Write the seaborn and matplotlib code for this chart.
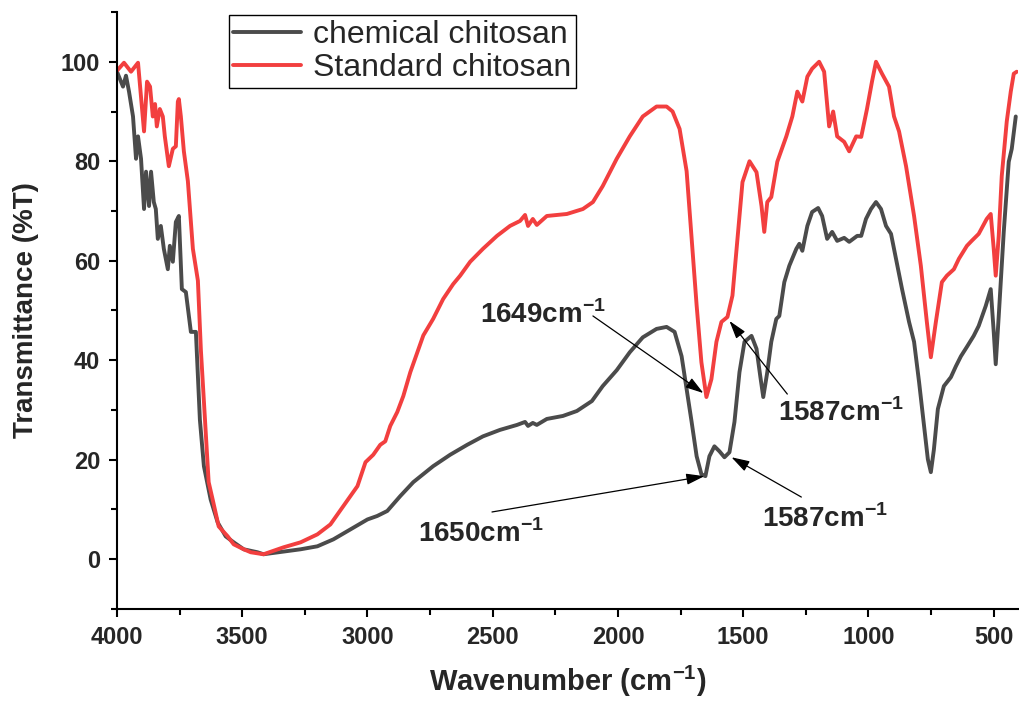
import numpy as np
import pandas as pd
import matplotlib
matplotlib.use("Agg")
import matplotlib.pyplot as plt
import seaborn as sns

# FTIR spectra (wavenumber in cm-1, %T)
wn_chem = [4000, 3976, 3964, 3952, 3936, 3924, 3916, 3904, 3892, 3884, 3872, 3864, 3853, 3845,
           3837, 3825, 3813, 3797, 3789, 3777, 3765, 3753, 3741, 3725, 3705, 3685, 3669, 3653,
           3626, 3598, 3566, 3534, 3494, 3439, 3415, 3267, 3200, 3136, 3068, 3000, 2961, 2921,
           2869, 2817, 2738, 2670, 2602, 2539, 2471, 2403, 2371, 2359, 2340, 2324, 2284, 2220,
           2164, 2104, 2061, 2005, 1953, 1901, 1846, 1806, 1774, 1746, 1726, 1706, 1686, 1667,
           1651, 1635, 1615, 1595, 1575, 1555, 1535, 1515, 1495, 1467, 1447, 1432, 1420, 1404,
           1388, 1368, 1356, 1336, 1316, 1288, 1276, 1264, 1244, 1225, 1201, 1185, 1165, 1145,
           1125, 1097, 1077, 1045, 1029, 1010, 990, 970, 950, 930, 910, 890, 866, 838, 818, 798,
           778, 763, 751, 739, 723, 699, 671, 651, 631, 607, 580, 560, 532, 512, 500, 492, 480,
           460, 440, 428, 412]
t_chem = [98, 95, 97.2, 94, 89, 80.5, 85, 80.5, 70.4, 77.9, 71, 77.9, 71.8, 70.4,
          64.4, 67, 62.4, 58.3, 63, 59.8, 67.8, 69, 54.3, 53.7, 45.7, 45.7, 28, 18.7,
          12, 7.4, 4.6, 3.4, 2, 1.4, 1.0, 2, 2.6, 4, 6, 8, 8.7, 9.7,
          12.7, 15.5, 18.7, 21, 23, 24.7, 26, 27, 27.6, 26.8, 27.4, 27, 28.2, 28.8,
          29.8, 31.8, 34.8, 38, 41.6, 44.6, 46.3, 46.7, 45.7, 40.8, 34.2, 27.6, 20.7, 17.1,
          16.7, 20.7, 22.7, 21.7, 20.5, 21.5, 27.6, 37.6, 43.7, 44.9, 42.3, 36.8, 32.6, 37.6,
          43.7, 48.3, 48.9, 55.7, 59, 62.4, 63.4, 62, 67, 69.8, 70.6, 69, 64.4, 65.8,
          64, 64.6, 63.8, 65, 65, 68.4, 70.4, 71.8, 70.4, 67, 65.4, 60.4, 54.3, 47.7, 43.7, 35.6,
          26.8, 20.1, 17.5, 22, 30.2, 34.8, 36.6, 38.8, 40.8, 42.7, 44.9, 46.9, 50.9, 54.3, 45.7, 39.2, 48.9,
          65.8, 79.9, 82.5, 89]

wn_std = [4000, 3972, 3944, 3916, 3892, 3880, 3868, 3857, 3848, 3841, 3829, 3817, 3809, 3793,
          3777, 3765, 3757, 3753, 3745, 3733, 3717, 3697, 3677, 3665, 3650, 3634, 3618, 3594,
          3558, 3534, 3494, 3466, 3415, 3335, 3267, 3200, 3148, 3096, 3040, 3008, 2977, 2949,
          2929, 2909, 2881, 2857, 2829, 2801, 2777, 2738, 2698, 2658, 2630, 2590, 2539, 2483,
          2431, 2391, 2371, 2359, 2340, 2324, 2284, 2204, 2140, 2100, 2061, 2005, 1953, 1901,
          1846, 1806, 1782, 1754, 1726, 1706, 1686, 1667, 1647, 1627, 1607, 1587, 1563, 1543,
          1523, 1503, 1475, 1447, 1427, 1416, 1404, 1388, 1364, 1328, 1304, 1284, 1264, 1244,
          1225, 1197, 1177, 1157, 1141, 1125, 1097, 1077, 1049, 1029, 1006, 986, 970, 946, 918,
          898, 878, 850, 818, 791, 767, 751, 731, 707, 687, 659, 639, 607, 588, 560, 528, 512,
          500, 492, 480, 468, 448, 432, 420, 408]
t_std = [98.2, 99.8, 98, 99.8, 86, 96, 95, 89, 91.5, 87, 90.5, 89, 85, 79,
         82.5, 83, 92, 92.5, 89, 82, 76, 62.4, 56, 42, 29, 15.5, 12, 6.6,
         4.6, 3, 2, 1.4, 1.0, 2.4, 3.4, 5, 7, 10.7, 14.7, 19.5, 21, 23,
         23.7, 26.8, 29.6, 32.8, 37.6, 41.6, 45, 48.3, 52.3, 55.3, 57, 59.8, 62.4, 65,
         67, 68, 69.2, 67, 68.4, 67.2, 69, 69.4, 70.4, 71.8, 75, 80.5, 85, 89,
         91, 91, 90, 86.5, 78, 64.4, 51, 39.6, 32.6, 36.2, 43.7, 47.7, 48.7, 53,
         64.4, 75.8, 80, 77.8, 71, 65.8, 71.8, 72.8, 79.9, 85, 89, 94, 92, 97,
         98.6, 100, 98, 87, 90, 85, 83.9, 82, 85, 84.9, 90.5, 96, 100, 97.6, 95,
         89, 86, 79, 69, 59, 47.7, 40.6, 47.7, 55.7, 57, 58.3, 60.4, 63, 64, 65.4, 68.4, 69.4,
         62.4, 57, 65, 77, 88, 94, 97.6, 98]

labels = ["chemical chitosan", "Standard chitosan"]
colors = ["#4b4b4b", "#f23f3f"]

sns.set_style("ticks")
plt.rcParams.update({'font.family': ['Liberation Sans', 'DejaVu Sans']})
plt.rcParams.update({'mathtext.fontset': 'custom'})
plt.rcParams.update({'mathtext.rm': 'Liberation Sans'})
plt.rcParams.update({'mathtext.bf': 'Liberation Sans:bold'})

df_chem = pd.DataFrame({"wn": wn_chem, "T": t_chem})
df_std = pd.DataFrame({"wn": wn_std, "T": t_std})

fig = plt.figure(figsize=(10.19, 7.02), dpi=100)
ax = fig.add_axes([0.1148, 0.1325, 0.884, 0.8504])

sns.lineplot(data=df_chem, x="wn", y="T", sort=False, estimator=None, color=colors[0],
             lw=2.8, label=labels[0], ax=ax, solid_joinstyle="round")
sns.lineplot(data=df_std, x="wn", y="T", sort=False, estimator=None, color=colors[1],
             lw=2.8, label=labels[1], ax=ax, solid_joinstyle="round")

ax.set_xlim(4000, 404)
ax.set_ylim(-10, 110)
ax.set_xticks([4000, 3500, 3000, 2500, 2000, 1500, 1000, 500])
ax.set_xticks(np.arange(3750, 400, -500), minor=True)
ax.set_yticks([0, 20, 40, 60, 80, 100])
ax.set_yticks([-10, 10, 30, 50, 70, 90, 110], minor=True)

sns.despine(ax=ax)
for s in ["left", "bottom"]:
    ax.spines[s].set_linewidth(1.5)
    ax.spines[s].set_color("black")
ax.tick_params(axis="both", which="major", direction="out", length=6, width=1.5,
               labelsize=17, color="black", pad=6)
ax.tick_params(axis="both", which="minor", direction="out", length=4, width=1.5, color="black")
for lab in ax.get_xticklabels() + ax.get_yticklabels():
    lab.set_fontweight("bold")

ax.set_xlabel(r"Wavenumber (cm$^{\mathbf{-1}}$)", fontsize=21, fontweight="bold", labelpad=11)
ax.set_ylabel("Transmittance (%T)", fontsize=20, fontweight="bold", labelpad=16)

leg = ax.legend(loc="upper left", bbox_to_anchor=(0.124, 0.995), borderaxespad=0,
                fontsize=23, frameon=True, fancybox=False, framealpha=1,
                edgecolor="black", handlelength=2.1, handletextpad=0.4,
                labelspacing=0.1, borderpad=0.15)
leg.get_frame().set_linewidth(1.0)

# peak annotations
arrow = dict(arrowstyle="-|>,head_length=0.55,head_width=0.17", color="black",
             lw=0.9, mutation_scale=20, shrinkA=0, shrinkB=0)
ax.annotate("", xy=(1659, 33.4), xytext=(2100, 48.9), arrowprops=arrow)
ax.annotate("", xy=(1555, 47.9), xytext=(1324, 33.2), arrowprops=arrow)
ax.annotate("", xy=(1655, 16.7), xytext=(2503, 9.5), arrowprops=arrow)
ax.annotate("", xy=(1547, 20.5), xytext=(1268, 12.5), arrowprops=arrow)

txt = dict(fontsize=20, fontweight="bold", ha="left", va="baseline")
ax.text(2550, 47.5, r"1649cm$^{\mathbf{-1}}$", **txt)
ax.text(1360, 27.8, r"1587cm$^{\mathbf{-1}}$", **txt)
ax.text(2797, 3.4, r"1650cm$^{\mathbf{-1}}$", **txt)
ax.text(1424, 6.4, r"1587cm$^{\mathbf{-1}}$", **txt)

fig.savefig("out.png", dpi=100)
